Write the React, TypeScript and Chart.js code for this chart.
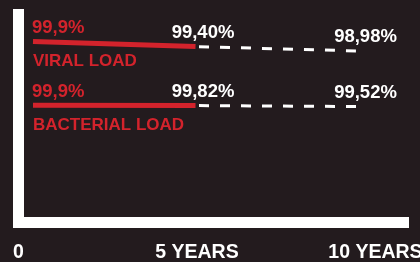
import React, { useEffect, useRef } from 'react';
import { Chart, registerables } from 'chart.js';

Chart.register(...registerables);

// ---- data ----
const years = [0, 5, 10];
const viralLoad = [99.9, 99.4, 98.98];
const bacterialLoad = [99.9, 99.82, 99.52];
const viralLabels = ['99,9%', '99,40%', '98,98%'];
const bacterialLabels = ['99,9%', '99,82%', '99,52%'];
const seriesNames = ['VIRAL LOAD', 'BACTERIAL LOAD'];
const xTickValues = [0, 5, 10];
const xTickLabels = ['0', '5 YEARS', '10 YEARS'];

// ---- style ----
const BG = '#231b1e';
const RED = '#d3232c';
const WHITE = '#ffffff';
const FONT = '"Liberation Sans", Arial, sans-serif';

const pts = (vals: number[], from: number, to: number) =>
  years.slice(from, to).map((x, i) => ({ x, y: vals[from + i] }));

const labelPlugin = {
  id: 'valueLabels',
  afterDatasetsDraw(chart: any) {
    const ctx = chart.ctx;
    const xs = chart.scales.xd;
    const series = [
      { vals: viralLoad, labels: viralLabels, name: seriesNames[0], ys: chart.scales.y },
      { vals: bacterialLoad, labels: bacterialLabels, name: seriesNames[1], ys: chart.scales.y2 },
    ];
    series.forEach((s) => {
      const px = years.map((v) => xs.getPixelForValue(v));
      const py = s.vals.map((v) => s.ys.getPixelForValue(v));
      ctx.save();
      ctx.textBaseline = 'alphabetic';
      ctx.font = `bold 18.5px ${FONT}`;
      ctx.fillStyle = RED;
      ctx.textAlign = 'left';
      ctx.fillText(s.labels[0], px[0] - 1, py[0] - 8);
      ctx.fillStyle = WHITE;
      ctx.textAlign = 'center';
      for (let i = 1; i < s.labels.length; i++) {
        ctx.fillText(s.labels[i], px[i] + 7.5, py[i] - 9);
      }
      ctx.font = `bold 17px ${FONT}`;
      ctx.fillStyle = RED;
      ctx.textAlign = 'left';
      ctx.fillText(s.name, px[0], py[0] + 24.5);
      ctx.restore();
    });
  },
};

export default function App() {
  const ref = useRef<HTMLCanvasElement>(null);
  useEffect(() => {
    if (!ref.current) return;
    const solid = (vals: number[], yAxisID: string) => ({
      data: pts(vals, 0, 2),
      xAxisID: 'xd',
      yAxisID,
      borderColor: RED,
      borderWidth: 5,
      borderCapStyle: 'butt',
      pointRadius: 0,
      tension: 0,
      fill: false,
    });
    const dashed = (vals: number[], yAxisID: string) => ({
      data: pts(vals, 1, 3),
      xAxisID: 'xd',
      yAxisID,
      borderColor: WHITE,
      borderWidth: 3,
      borderDash: [10, 11],
      borderDashOffset: 17.5,
      borderCapStyle: 'butt',
      pointRadius: 0,
      tension: 0,
      fill: false,
    });
    const chart = new Chart(ref.current, {
      type: 'line',
      data: {
        datasets: [
          solid(viralLoad, 'y'),
          dashed(viralLoad, 'y'),
          solid(bacterialLoad, 'y2'),
          dashed(bacterialLoad, 'y2'),
        ] as any,
      },
      options: {
        responsive: false,
        animation: false,
        devicePixelRatio: 1,
        layout: { padding: { top: 14.5, right: 11, left: 0, bottom: 0 } },
        plugins: { legend: { display: false }, tooltip: { enabled: false } },
        scales: {
          xd: { type: 'linear', display: false, min: -0.446, max: 11.569 },
          x: {
            type: 'linear',
            position: 'bottom',
            min: 0,
            max: 10.94,
            grid: { display: false, drawTicks: false, lineWidth: 0 },
            border: { display: true, width: 11, color: WHITE },
            afterBuildTicks: (scale: any) => {
              scale.ticks = xTickValues.map((v) => ({ value: v }));
            },
            afterFit: (scale: any) => {
              scale.height = 39.5;
              scale.paddingLeft = 0;
              scale.paddingRight = 0;
            },
            ticks: {
              color: WHITE,
              padding: 18.5,
              maxRotation: 0,
              autoSkip: false,
              font: { family: FONT, size: 19.5, weight: 'bold' },
              callback: (_v: any, i: number) => xTickLabels[i],
            },
          },
          y: {
            type: 'linear',
            position: 'left',
            min: 82.37,
            max: 102.51,
            grid: { display: false, drawTicks: false, lineWidth: 0 },
            border: { display: true, width: 11, color: WHITE },
            ticks: { display: false },
            afterFit: (scale: any) => {
              scale.width = 18.5;
              scale.paddingTop = 0;
              scale.paddingBottom = 0;
            },
          },
          y2: { type: 'linear', display: false, min: 62.83, max: 128.63 },
        },
      } as any,
      plugins: [labelPlugin],
    });
    return () => chart.destroy();
  }, []);
  return (
    <div style={{ position: 'fixed', left: 0, top: 0, width: 420, height: 262, background: BG }}>
      <canvas ref={ref} width={420} height={262} style={{ display: 'block' }} />
    </div>
  );
}
